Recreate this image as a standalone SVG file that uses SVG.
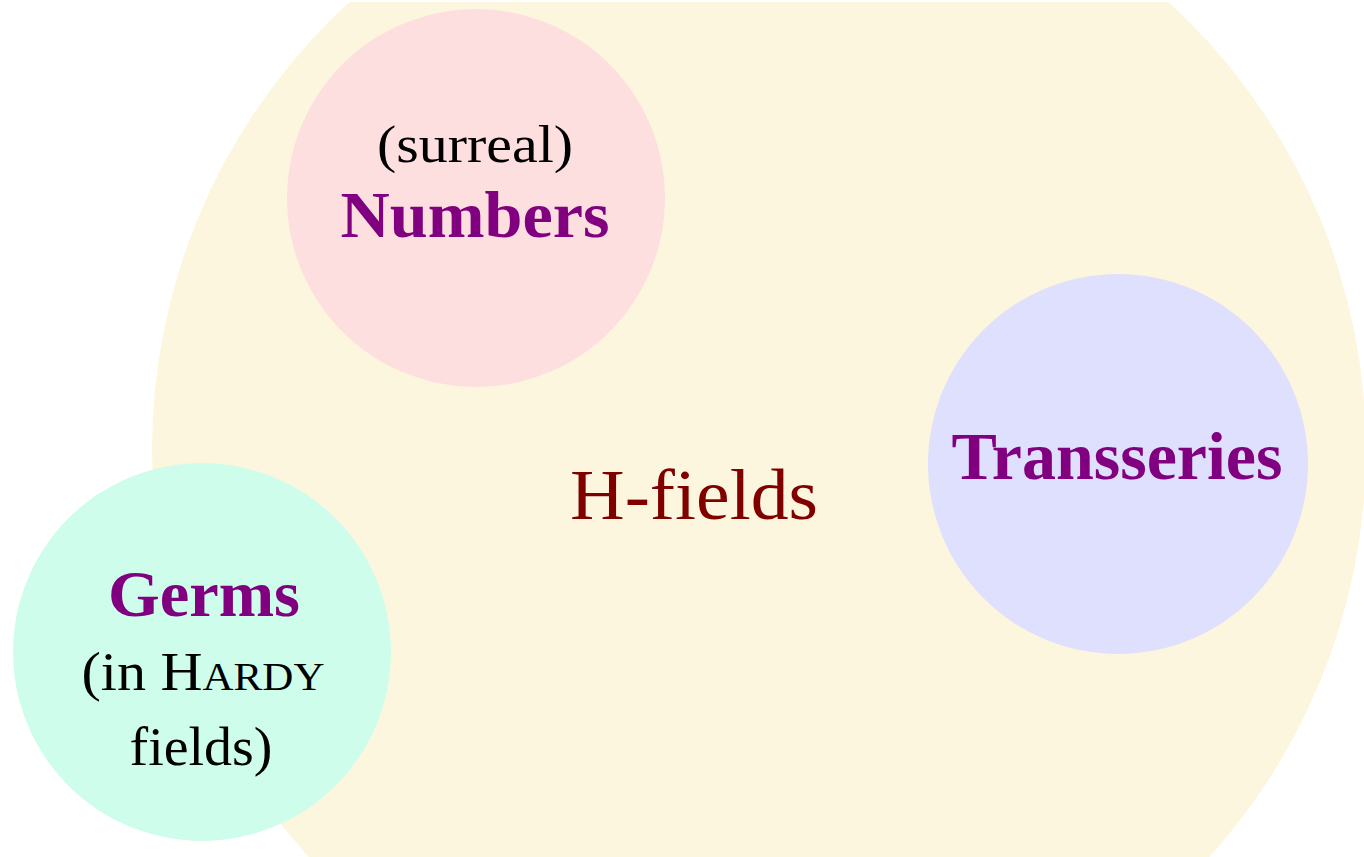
<svg xmlns="http://www.w3.org/2000/svg" width="1364" height="857" viewBox="0 0 1364 857">
  <style>
    .serif { font-family: "Liberation Serif", "DejaVu Serif", serif; }
    .title { font-weight: bold; fill: #800080; text-anchor: middle; }
    .note { fill: #000000; text-anchor: middle; }
    .outer { fill: #800000; text-anchor: middle; }
  </style>
  <defs>
    <clipPath id="page">
      <rect x="0" y="2" width="1364" height="855"/>
    </clipPath>
  </defs>
  <rect width="1364" height="857" fill="#ffffff"/>

  <!-- enclosing class: H-fields -->
  <g id="h-fields" class="serif">
    <circle cx="759" cy="450" r="607" fill="#fdf6de" clip-path="url(#page)"/>
    <text class="outer" x="694" y="519" font-size="71" textLength="248" lengthAdjust="spacingAndGlyphs">H-fields</text>
  </g>

  <!-- surreal numbers -->
  <g id="numbers" class="serif">
    <circle cx="476" cy="198" r="189" fill="#fedfe0"/>
    <text class="note" x="475" y="162" font-size="52" textLength="196" lengthAdjust="spacingAndGlyphs">(surreal)</text>
    <text class="title" x="475" y="237" font-size="66" textLength="269" lengthAdjust="spacingAndGlyphs">Numbers</text>
  </g>

  <!-- transseries -->
  <g id="transseries" class="serif">
    <circle cx="1118" cy="464" r="190" fill="#dfdffe"/>
    <text class="title" x="1117" y="479" font-size="68" textLength="331" lengthAdjust="spacingAndGlyphs">Transseries</text>
  </g>

  <!-- germs in Hardy fields -->
  <g id="germs" class="serif">
    <circle cx="202" cy="652" r="189" fill="#cffdec"/>
    <text class="title" x="204" y="616" font-size="66" textLength="192" lengthAdjust="spacingAndGlyphs">Germs</text>
    <text class="note" x="203" y="690" font-size="54" textLength="243" lengthAdjust="spacingAndGlyphs">(in H<tspan font-size="40">ARDY</tspan></text>
    <text class="note" x="201" y="765" font-size="54" textLength="143" lengthAdjust="spacingAndGlyphs">fields)</text>
  </g>
</svg>
